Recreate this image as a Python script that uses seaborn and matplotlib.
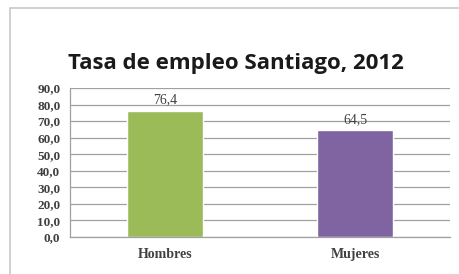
import matplotlib
matplotlib.use("Agg")
import matplotlib.pyplot as plt
import seaborn as sns
from matplotlib.patches import Rectangle
from matplotlib.ticker import FuncFormatter

categories = ["Hombres", "Mujeres"]
values = [76.4, 64.5]
colors = ["#9BBB59", "#8064A2"]
title = "Tasa de empleo Santiago, 2012"

sns.set_style("white")
plt.rcParams['font.family'] = ['DejaVu Sans']

fig = plt.figure(figsize=(4.59, 2.74), dpi=100)
fig.patches.append(Rectangle((10/459, -0.01), 1.0, 1 - 8/274 + 0.01, transform=fig.transFigure,
                             fill=False, edgecolor="#c8c8c8", linewidth=1.2))
ax = fig.add_axes([70/459, 1 - 237/274, 380/459, 149/274])

sns.barplot(x=categories, y=values, hue=categories, palette=colors, width=0.4,
            legend=False, ax=ax, saturation=1)

ax.set_ylim(0, 90)
ax.set_xlim(-0.5, 1.5)
ax.set_yticks(range(0, 91, 10))
ax.yaxis.set_major_formatter(FuncFormatter(lambda v, p: f"{v:.1f}".replace(".", ",")))
ax.grid(axis="y", color="#a0a0a0", linewidth=0.9)
ax.set_axisbelow(True)
for s in ["top", "right"]:
    ax.spines[s].set_visible(False)
for s in ["left", "bottom"]:
    ax.spines[s].set_color("#a0a0a0")
    ax.spines[s].set_linewidth(0.9)

ax.tick_params(axis="y", length=3, color="#a0a0a0", width=0.9, pad=4,
               labelsize=9.5, labelcolor="#404040")
for lab in ax.get_yticklabels():
    lab.set_fontfamily("Liberation Serif")
    lab.set_fontweight("bold")
ax.set_xticks([-0.5, 0.5, 1.5], minor=True)
ax.tick_params(axis="x", which="minor", length=4, color="#a0a0a0", width=0.9)
ax.tick_params(axis="x", which="major", length=0, pad=8, labelsize=10, labelcolor="#404040")
for lab in ax.get_xticklabels():
    lab.set_fontfamily("Liberation Serif")
    lab.set_fontweight("bold")
ax.set_xlabel("")
ax.set_ylabel("")

for c in ax.containers:
    ax.bar_label(c, labels=[f"{v:.1f}".replace(".", ",") for v in c.datavalues],
                 padding=3, fontsize=10, color="#404040", fontfamily="Liberation Serif")

fig.text(236/459, 1 - 63/274, title, ha="center", va="center", fontsize=16,
         fontweight="bold", fontfamily="Open Sans", color="#1a1a1a")

fig.savefig("out.png", dpi=100)
